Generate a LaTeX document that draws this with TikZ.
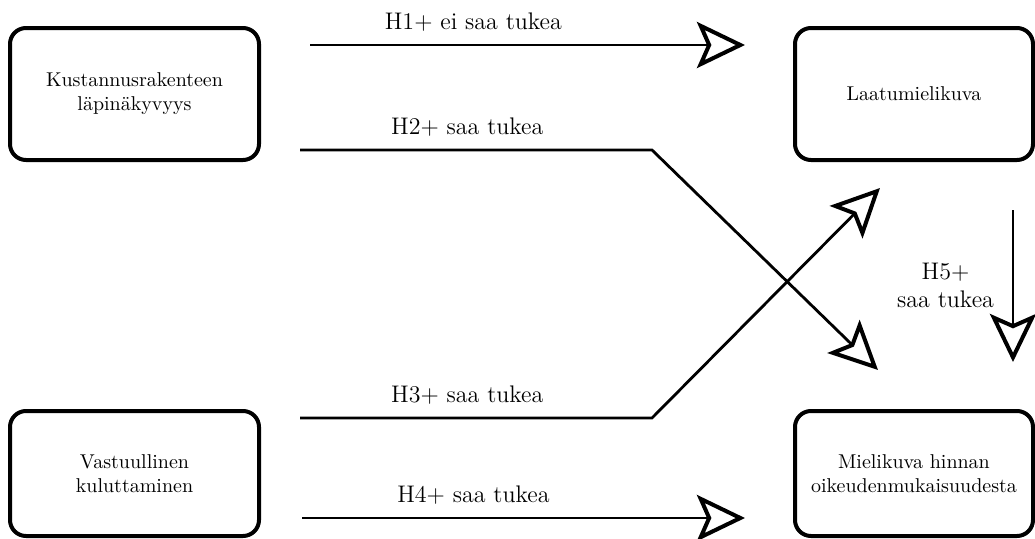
\documentclass[tikz,border=0pt]{standalone}
\usetikzlibrary{positioning,arrows.meta}

\begin{document}
\begin{tikzpicture}[x=0.5pt, y=0.5pt, node distance={268pt},
    box/.style = {draw, rounded corners=8pt, line width=2pt, outer sep=0pt, align=center, minimum height=66pt},
    hyp/.style = {line width=1.4pt, -{Stealth[open, length=24pt, width=23pt, inset=5pt, line width=2pt]}},
    lbl/.style = {above=3pt, font=\large}]
    \useasboundingbox (0,0) rectangle (1035,538);
    % Laatikot
    \node[box, minimum width=124.5pt] (kust) at (134.5,444) {Kustannusrakenteen\\läpinäkyvyys};
    \node[box, minimum width=119pt] (laatu) [right=of kust] {Laatumielikuva};
    \node[box, minimum width=124.5pt, minimum height=62.5pt] (vastuu) [below=125.5pt of kust] {Vastuullinen\\kuluttaminen};
    \node[box, minimum width=119pt, minimum height=62.5pt] (hinta) [right=of vastuu] {Mielikuva hinnan\\oikeudenmukaisuudesta};
    % Taitekohdat
    \coordinate (b2) at (652,388);
    \coordinate (b3) at (652,120);
    % Hypoteesit
    \draw[hyp, shorten <=25.5pt, shorten >=25pt] ([yshift=-8.5pt]kust.north east) -- node[lbl, pos=0.40] {H1+ ei saa tukea} ([yshift=-8.5pt]laatu.north west);
    \draw[hyp, shorten <=20.5pt] ([yshift=5pt]kust.south east) -- node[lbl, pos=0.53] {H2+ saa tukea} (b2) -- ([xshift=41.5pt, yshift=20.5pt]hinta.north west);
    \draw[hyp, shorten <=20.5pt] ([yshift=-3.5pt]vastuu.north east) -- node[lbl, pos=0.53] {H3+ saa tukea} (b3) -- ([xshift=42.5pt, yshift=-14pt]laatu.south west);
    \draw[hyp, shorten <=21.5pt, shorten >=25pt] ([yshift=9pt]vastuu.south east) -- node[lbl, pos=0.40] {H4+ saa tukea} ([yshift=9pt]hinta.south west);
    \draw[hyp, shorten <=25pt, shorten >=24.5pt] ([xshift=-10pt]laatu.south east) -- node[left=5.5pt, font=\large, align=center] {H5+\\saa tukea} ([xshift=-10pt]hinta.north east);
\end{tikzpicture}
\end{document}
